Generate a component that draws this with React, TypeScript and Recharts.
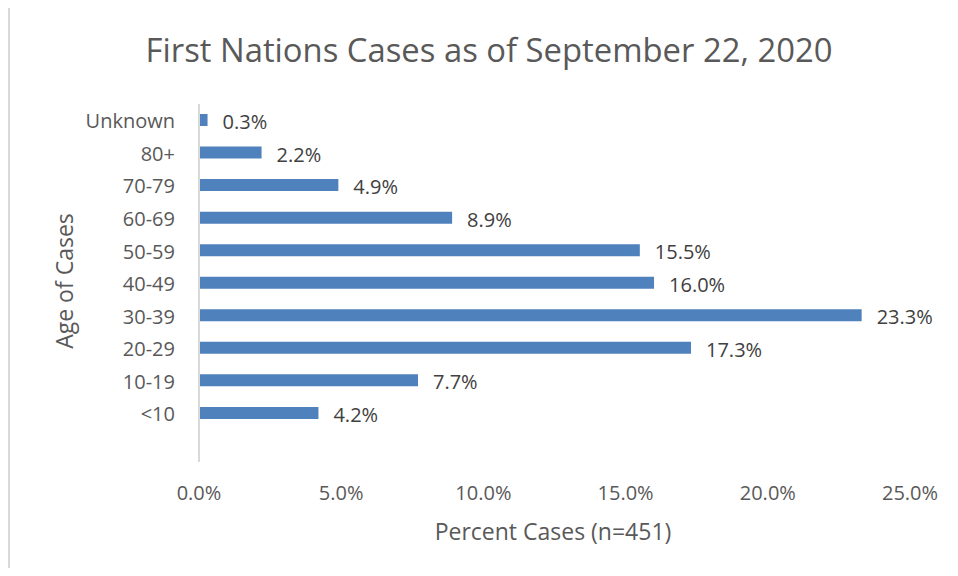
import React from "react";
import { BarChart, Bar, XAxis, YAxis, LabelList } from "recharts";

const categories = ["Unknown", "80+", "70-79", "60-69", "50-59", "40-49", "30-39", "20-29", "10-19", "<10", ""];
const percentValues: (number | null)[] = [0.3, 2.2, 4.9, 8.9, 15.5, 16.0, 23.3, 17.3, 7.7, 4.2, null];
const xTicks = [0, 5, 10, 15, 20, 25];

const data = categories.map((c, i) => ({ cat: c, v: percentValues[i] }));

const FONT = "'Open Sans', Lato, sans-serif";
const TEXT = "#595959";

const renderLabel = (props: any) => {
  const { x, y, width, height, value } = props;
  if (value == null) return null;
  return (
    <text
      x={Number(x) + Number(width) + 15}
      y={Number(y) + Number(height) / 2 + 2}
      dy="0.35em"
      textAnchor="start"
      fontSize={20}
      fill="#404040"
      fontFamily={FONT}
    >
      {Number(value).toFixed(1) + "%"}
    </text>
  );
};

export default function App() {
  return (
    <div style={{ position: "relative", width: 958, height: 576, margin: -8, overflow: "hidden", background: "#fff", fontFamily: FONT }}>
      <div style={{ position: "absolute", left: 8, top: 4, width: 1200, height: 1200, borderLeft: "2px solid #d9d9d9", borderTop: "2px solid #d9d9d9" }} />
      <div style={{ position: "absolute", left: 0, top: 0 }}>
        <BarChart
          width={958}
          height={576}
          data={data}
          layout="vertical"
          margin={{ top: 104, right: 48, bottom: 84, left: 0 }}
          barSize={12}
        >
          <XAxis
            type="number"
            domain={[0, 25]}
            ticks={xTicks}
            tickFormatter={(v: number) => v.toFixed(1) + "%"}
            axisLine={false}
            tickLine={false}
            tickSize={0}
            tickMargin={24}
            height={30}
            tick={{ fontSize: 20, fill: TEXT, fontFamily: FONT }}
            interval={0}
          />
          <YAxis
            type="category"
            dataKey="cat"
            width={199}
            axisLine={{ stroke: "#d9d9d9", strokeWidth: 2 }}
            tickLine={false}
            tickSize={0}
            tickMargin={24}
            tick={{ fontSize: 20, fill: TEXT, fontFamily: FONT, dy: 1 }}
            interval={0}
          />
          <Bar dataKey="v" fill="#4f81bd" isAnimationActive={false}>
            <LabelList dataKey="v" content={renderLabel} />
          </Bar>
        </BarChart>
      </div>
      <div style={{ position: "absolute", left: 0, width: 978, top: 27, textAlign: "center", fontSize: 32.8, color: TEXT, whiteSpace: "nowrap" }}>
        First Nations Cases as of September 22, 2020
      </div>
      <div style={{ position: "absolute", left: 553 - 160, width: 320, top: 515, textAlign: "center", fontSize: 23, color: TEXT, whiteSpace: "nowrap" }}>
        Percent Cases (n=451)
      </div>
      <div style={{ position: "absolute", left: 64 - 100, top: 281 - 15, width: 200, height: 30, lineHeight: "30px", textAlign: "center", fontSize: 23, color: TEXT, transform: "rotate(-90deg)", whiteSpace: "nowrap" }}>
        Age of Cases
      </div>
    </div>
  );
}
